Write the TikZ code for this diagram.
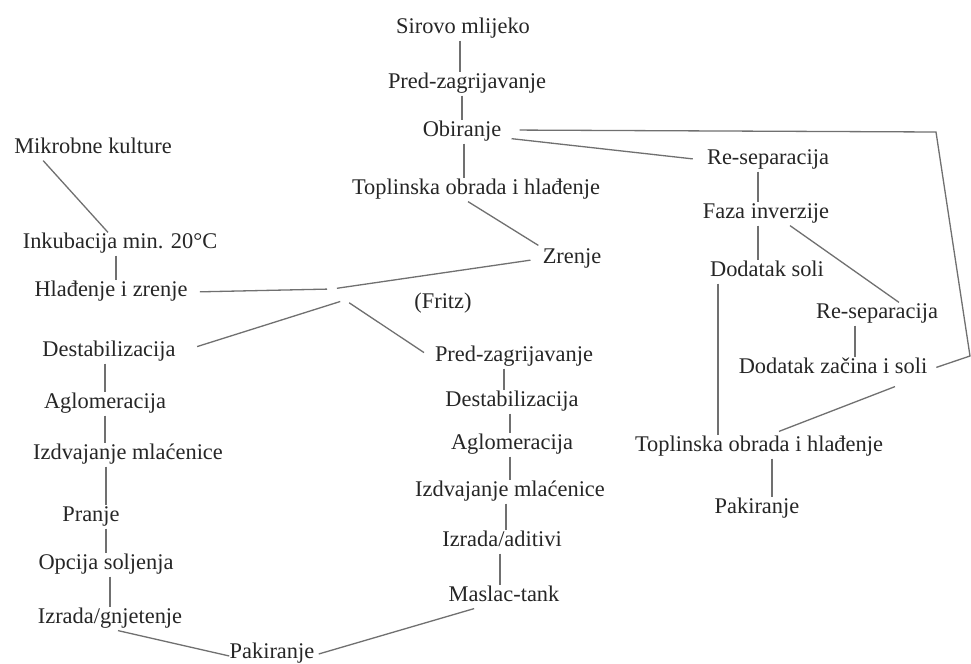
\documentclass[tikz,border=0pt]{standalone}
\usepackage{fontspec}
\setmainfont{Liberation Serif}
\usetikzlibrary{calc}
\definecolor{txtc}{HTML}{262626}
\definecolor{linec}{HTML}{707070}
\begin{document}
\begin{tikzpicture}[x=0.5pt,y=-0.5pt,
  lbl/.style={font=\fontsize{11.2pt}{13pt}\selectfont, text=txtc, inner xsep=2pt, inner ysep=1pt,
              text height=0.7em, text depth=0.22em, anchor=center},
  conn/.style={draw=linec, line width=0.65pt}]
\useasboundingbox[fill=white] (0,0) rectangle (971,664);

% top column
\node[lbl] (sirovo) at (463,29) {Sirovo mlijeko};
\node[lbl] (pred1) at (467,84) {Pred-zagrijavanje};
\node[lbl] (obir) at (462,132) {Obiranje};
\node[lbl] (topl1) at (476,190) {Toplinska obrada i hlađenje};
\node[lbl] (zrenje) at (572,259) {Zrenje};
\node[lbl] (fritz) at (443,304) {(Fritz)};

% left column
\node[lbl] (mikro) at (93,149) {Mikrobne kulture};
\node[lbl] (inku) at (120,244) {Inkubacija min. 20°C};
\node[lbl] (hlad) at (111,292) {Hlađenje i zrenje};
\node[lbl] (destL) at (109,352) {Destabilizacija};
\node[lbl] (aglL) at (105,404) {Aglomeracija};
\node[lbl] (izdvL) at (128,455) {Izdvajanje mlaćenice};
\node[lbl] (pranje) at (91,517) {Pranje};
\node[lbl] (opcija) at (106,565) {Opcija soljenja};
\node[lbl] (izradaL) at (110,619) {Izrada/gnjetenje};
\node[lbl] (pakL) at (272,654) {Pakiranje};

% middle column
\node[lbl] (pred2) at (514,357) {Pred-zagrijavanje};
\node[lbl] (destM) at (512,402) {Destabilizacija};
\node[lbl] (aglM) at (512,445) {Aglomeracija};
\node[lbl] (izdvM) at (510,492) {Izdvajanje mlaćenice};
\node[lbl] (izradaM) at (502,542) {Izrada/aditivi};
\node[lbl] (maslac) at (504,597) {Maslac-tank};

% right column
\node[lbl] (resep1) at (768,160) {Re-separacija};
\node[lbl] (faza) at (766,214) {Faza inverzije};
\node[lbl] (dsoli) at (767,272) {Dodatak soli};
\node[lbl] (resep2) at (877,314) {Re-separacija};
\node[lbl] (dzacina) at (833,369) {Dodatak začina i soli};
\node[lbl] (topl2) at (759,447) {Toplinska obrada i hlađenje};
\node[lbl] (pak2) at (757,509) {Pakiranje};

% helper coordinates
\coordinate (jA) at (332,289);
\coordinate (jB) at (345,300);
\coordinate (tr) at (936,132);
\coordinate (br) at (970,356);

% top column connectors
\draw[conn] ([xshift=-1.5pt]sirovo.south) -- ([xshift=-1.5pt]sirovo.south |- pred1.north);
\draw[conn] (obir.north |- pred1.south) -- (obir.north);
\draw[conn] ([xshift=1pt]obir.south) -- ([xshift=1pt]obir.south |- topl1.north);
\draw[conn] ([xshift=-4pt]topl1.south) -- ([yshift=1pt]zrenje.north west);

% junction
\draw[conn, shorten <=4pt, shorten >=2.5pt] (hlad.east) -- (jA);
\draw[conn, shorten <=4pt, shorten >=2.5pt] (zrenje.west) -- (jA);
\draw[conn, shorten <=9pt, shorten >=2.5pt] (destL.east) -- (jB);
\draw[conn, shorten <=4pt, shorten >=2.5pt] (pred2.west) -- (jB);

% left column connectors
\draw[conn] ($(mikro.south west)!0.2!(mikro.south east)$) -- ([xshift=-6pt]inku.north);
\draw[conn] ([xshift=-2pt]inku.south) -- ([xshift=-2pt]inku.south |- hlad.north);
\draw[conn] (aglL.north |- destL.south) -- (aglL.north);
\draw[conn] (aglL.south) -- (aglL.south |- izdvL.north);
\draw[conn] (opcija.north |- izdvL.south) -- (opcija.north |- pranje.north);
\draw[conn] (opcija.north |- pranje.south) -- (opcija.north);
\draw[conn] (izradaL.north |- opcija.south) -- (izradaL.north);
\draw[conn] ([xshift=4pt]izradaL.south) -- ([xshift=2pt,yshift=-1pt]pakL.west);
\draw[conn] ($(maslac.south)!0.5!(maslac.south west)$) -- (pakL.east);

% middle column connectors
\draw[conn] ([xshift=-5pt]pred2.south) -- ([xshift=-5pt]pred2.south |- destM.north);
\draw[conn] ([xshift=-1pt]destM.south) -- ([xshift=-1pt]destM.south |- aglM.north);
\draw[conn] ([xshift=-1pt]aglM.south) -- ([xshift=-1pt]aglM.south |- izdvM.north);
\draw[conn] ([xshift=-2pt]izdvM.south) -- ([xshift=-2pt]izdvM.south |- izradaM.north);
\draw[conn] ([xshift=-1pt]izradaM.south) -- ([xshift=-1pt]izradaM.south |- maslac.north);

% right column connectors
\draw[conn, shorten <=3pt, shorten >=5pt] ([yshift=-3pt]obir.east) -- (resep1.west);
\draw[conn, shorten <=7pt, shorten >=2.5pt] ([yshift=1pt]obir.east) -- (tr) -- (br) -- (dzacina.east);
\draw[conn] ([xshift=-5pt]resep1.south) -- ([xshift=-5pt]resep1.south |- faza.north);
\draw[conn] ([xshift=-4pt]faza.south) -- ([xshift=-4pt]faza.south |- dsoli.north);
\draw[conn] ([xshift=12pt]faza.south) -- ([xshift=11pt]resep2.north);
\draw[conn] ([xshift=-11pt]resep2.south) -- ([xshift=-11pt]resep2.south |- dzacina.north);
\draw[conn] ([xshift=-24.5pt]dsoli.south) -- ([xshift=-24.5pt]dsoli.south |- topl2.north);
\draw[conn] ([xshift=31pt,yshift=-3pt]dzacina.south) -- ([xshift=10pt,yshift=2pt]topl2.north);
\draw[conn] ([xshift=6.5pt]topl2.south) -- ([xshift=6.5pt]topl2.south |- pak2.north);
\end{tikzpicture}
\end{document}
